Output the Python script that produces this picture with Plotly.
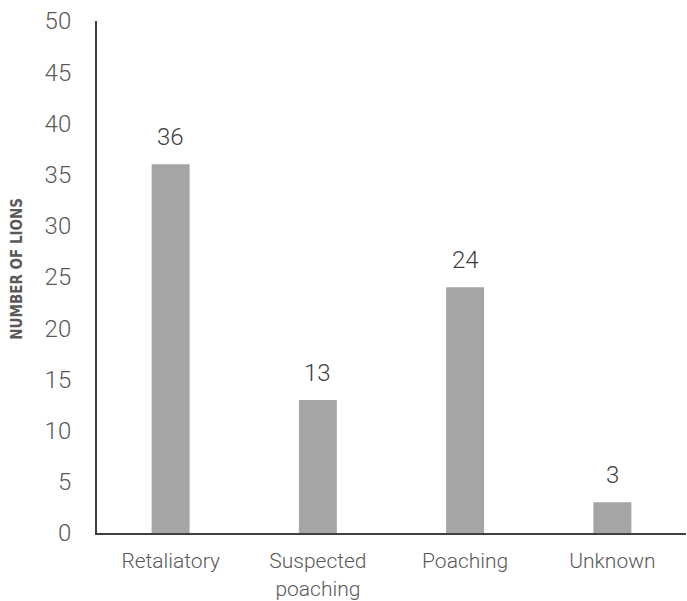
import plotly.graph_objects as go

categories = ["Retaliatory", "Suspected<br>poaching", "Poaching", "Unknown"]
values = [36, 13, 24, 3]
y_ticks = [0, 5, 10, 15, 20, 25, 30, 35, 40, 45, 50]
y_title = "NUMBER OF LIONS"

FONT = "Roboto, 'Noto Sans', sans-serif"

fig = go.Figure()
fig.add_trace(go.Bar(
    x=categories, y=values,
    marker=dict(color="#a5a5a5", line=dict(width=0)),
    hoverinfo="skip",
))

for c, v in zip(categories, values):
    fig.add_annotation(
        x=c, y=v, xref="x", yref="y",
        text=str(v), showarrow=False,
        yanchor="bottom", yshift=11,
        font=dict(family=FONT, size=24, color="#404040", weight=300),
    )

fig.add_annotation(
    xref="paper", yref="paper", x=-0.136, y=0.516,
    text=y_title, showarrow=False, textangle=-90,
    xanchor="center", yanchor="middle",
    font=dict(family="'DejaVu Sans Condensed', 'Liberation Sans Narrow', sans-serif",
              size=15, color="#595959", weight="bold"),
)

fig.update_layout(
    width=687, height=601,
    margin=dict(l=97, r=1, t=21, b=68, autoexpand=False),
    paper_bgcolor="white", plot_bgcolor="white",
    bargap=0.742,
    showlegend=False,
    font=dict(family=FONT, color="#595959"),
)
fig.update_xaxes(
    showline=True, linecolor="#404040", linewidth=2,
    showgrid=False, ticks="", automargin=False,
    tickfont=dict(family=FONT, size=21, color="#595959", weight=300),
    ticklabelstandoff=8,
)
fig.update_yaxes(
    range=[0, 50], tickvals=y_ticks,
    showline=True, linecolor="#404040", linewidth=2,
    showgrid=False, zeroline=False, ticks="", automargin=False,
    tickfont=dict(family=FONT, size=24, color="#595959", weight=300),
    ticklabelstandoff=19,
)

fig.write_html(
    "out.html",
    config={"displayModeBar": False},
    post_script="document.body.style.margin='0';document.body.style.overflow='hidden';",
)
